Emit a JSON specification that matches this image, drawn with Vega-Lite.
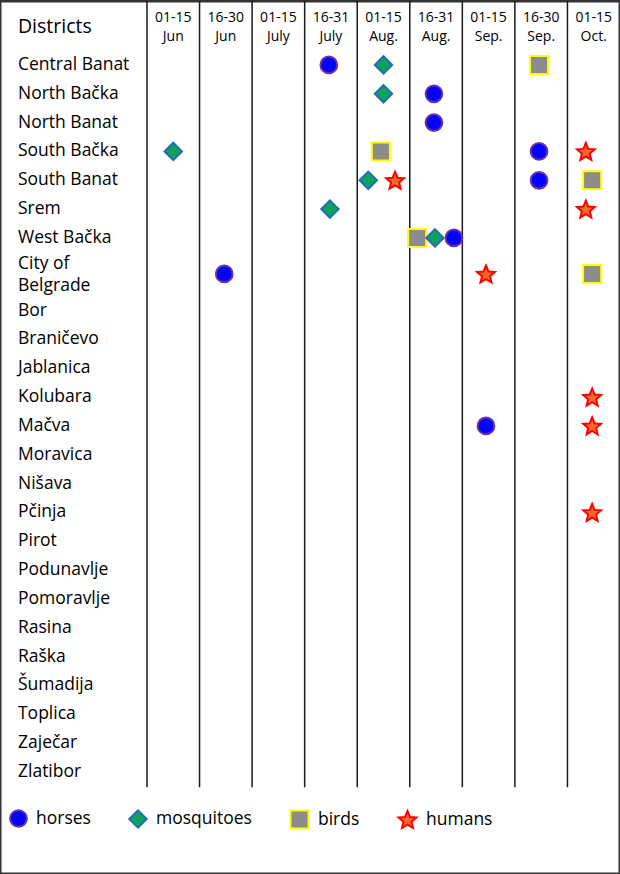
{
  "$schema": "https://vega.github.io/schema/vega-lite/v6.json",
  "autosize": {"type": "fit", "contains": "padding"},
  "width": 620,
  "height": 874,
  "padding": 0,
  "background": "white",
  "datasets": {
    "periods": [
      {"col": 0, "label": "01-15\nJun"},
      {"col": 1, "label": "16-30\nJun"},
      {"col": 2, "label": "01-15\nJuly"},
      {"col": 3, "label": "16-31\nJuly"},
      {"col": 4, "label": "01-15\nAug."},
      {"col": 5, "label": "16-31\nAug."},
      {"col": 6, "label": "01-15\nSep."},
      {"col": 7, "label": "16-30\nSep."},
      {"col": 8, "label": "01-15\nOct."}
    ],
    "districts": [
      {"district": "Central Banat", "row": 1},
      {"district": "North Bačka", "row": 2},
      {"district": "North Banat", "row": 3},
      {"district": "South Bačka", "row": 4},
      {"district": "South Banat", "row": 5},
      {"district": "Srem", "row": 6},
      {"district": "West Bačka", "row": 7},
      {"district": "City of\nBelgrade", "row": 8.25},
      {"district": "Bor", "row": 9.52},
      {"district": "Braničevo", "row": 10.52},
      {"district": "Jablanica", "row": 11.52},
      {"district": "Kolubara", "row": 12.52},
      {"district": "Mačva", "row": 13.52},
      {"district": "Moravica", "row": 14.52},
      {"district": "Nišava", "row": 15.52},
      {"district": "Pčinja", "row": 16.52},
      {"district": "Pirot", "row": 17.52},
      {"district": "Podunavlje", "row": 18.52},
      {"district": "Pomoravlje", "row": 19.52},
      {"district": "Rasina", "row": 20.52},
      {"district": "Raška", "row": 21.52},
      {"district": "Šumadija", "row": 22.52},
      {"district": "Toplica", "row": 23.52},
      {"district": "Zaječar", "row": 24.52},
      {"district": "Zlatibor", "row": 25.52}
    ],
    "detections": [
      {"district": "Central Banat", "col": 3, "type": "horses", "slot": -0.04},
      {"district": "Central Banat", "col": 4, "type": "mosquitoes", "slot": 0},
      {"district": "Central Banat", "col": 7, "type": "birds", "slot": -0.04},
      {"district": "North Bačka", "col": 4, "type": "mosquitoes", "slot": 0},
      {"district": "North Bačka", "col": 5, "type": "horses", "slot": -0.04},
      {"district": "North Banat", "col": 5, "type": "horses", "slot": -0.04},
      {"district": "South Bačka", "col": 0, "type": "mosquitoes", "slot": 0},
      {"district": "South Bačka", "col": 4, "type": "birds", "slot": -0.05},
      {"district": "South Bačka", "col": 7, "type": "horses", "slot": -0.04},
      {"district": "South Bačka", "col": 8, "type": "humans", "slot": -0.15},
      {"district": "South Banat", "col": 4, "type": "mosquitoes", "slot": -0.29},
      {"district": "South Banat", "col": 4, "type": "humans", "slot": 0.22},
      {"district": "South Banat", "col": 7, "type": "horses", "slot": -0.04},
      {"district": "South Banat", "col": 8, "type": "birds", "slot": -0.03},
      {"district": "Srem", "col": 3, "type": "mosquitoes", "slot": -0.02},
      {"district": "Srem", "col": 8, "type": "humans", "slot": -0.15},
      {"district": "West Bačka", "col": 5, "type": "birds", "slot": -0.36},
      {"district": "West Bačka", "col": 5, "type": "mosquitoes", "slot": -0.02},
      {"district": "West Bačka", "col": 5, "type": "horses", "slot": 0.34},
      {"district": "City of\nBelgrade", "col": 1, "type": "horses", "slot": -0.03},
      {"district": "City of\nBelgrade", "col": 6, "type": "humans", "slot": -0.05},
      {"district": "City of\nBelgrade", "col": 8, "type": "birds", "slot": -0.03},
      {"district": "Kolubara", "col": 8, "type": "humans", "slot": -0.03},
      {"district": "Mačva", "col": 6, "type": "horses", "slot": -0.05},
      {"district": "Mačva", "col": 8, "type": "humans", "slot": -0.03},
      {"district": "Pčinja", "col": 8, "type": "humans", "slot": -0.03}
    ]
  },
  "layer": [
    {
      "data": {"name": "periods"},
      "mark": {"type": "rule", "stroke": "#1a1a1a", "strokeWidth": 1.5},
      "encoding": {
        "x": {"field": "col", "type": "quantitative", "scale": {"domain": [-2.797, 9.0], "nice": false, "zero": false}, "axis": null},
        "y": {"datum": -1.217, "type": "quantitative", "scale": {"domain": [-1.217, 29.06], "nice": false, "zero": false, "reverse": true}, "axis": null},
        "y2": {"datum": 26.05}
      }
    },
    {
      "data": {"name": "periods"},
      "transform": [{"calculate": "datum.col + 0.5", "as": "center"}],
      "mark": {"type": "text", "fontSize": 14, "lineBreak": "\n", "lineHeight": 19, "align": "center", "baseline": "middle"},
      "encoding": {
        "x": {"field": "center", "type": "quantitative"},
        "y": {"datum": -0.63, "type": "quantitative"},
        "text": {"field": "label"}
      }
    },
    {
      "data": {"values": [{"label": "Districts"}]},
      "mark": {"type": "text", "fontSize": 19.5, "align": "left", "baseline": "middle"},
      "encoding": {
        "x": {"datum": -2.455, "type": "quantitative"},
        "y": {"datum": -0.33, "type": "quantitative"},
        "text": {"field": "label"}
      }
    },
    {
      "data": {"name": "districts"},
      "transform": [{"filter": "datum.row !== 8.25"}],
      "mark": {"type": "text", "fontSize": 17.5, "align": "left", "baseline": "middle"},
      "encoding": {
        "x": {"datum": -2.455, "type": "quantitative"},
        "y": {"field": "row", "type": "quantitative"},
        "text": {"field": "district"}
      }
    },
    {
      "data": {"name": "districts"},
      "transform": [{"filter": "datum.row === 8.25"}],
      "mark": {"type": "text", "fontSize": 17.5, "lineBreak": "\n", "lineHeight": 22, "align": "left", "baseline": "middle"},
      "encoding": {
        "x": {"datum": -2.455, "type": "quantitative"},
        "y": {"datum": 7.89, "type": "quantitative"},
        "text": {"field": "district"}
      }
    },
    {
      "data": {"name": "detections"},
      "transform": [
        {"lookup": "district", "from": {"data": {"name": "districts"}, "key": "district", "fields": ["row"]}},
        {"calculate": "datum.col + 0.5 + datum.slot", "as": "xpos"}
      ],
      "mark": {"type": "point", "filled": true, "opacity": 1, "strokeWidth": 2},
      "encoding": {
        "x": {"field": "xpos", "type": "quantitative"},
        "y": {"field": "row", "type": "quantitative"},
        "shape": {"field": "type", "type": "nominal", "scale": {"domain": ["horses", "mosquitoes", "birds", "humans"], "range": ["circle", "diamond", "square", "M0,-0.905L0.265,-0.269L0.951,-0.214L0.428,0.234L0.588,0.904L0,0.545L-0.588,0.904L-0.428,0.234L-0.951,-0.214L-0.265,-0.269Z"]}, "legend": {"title": null}},
        "size": {"field": "type", "type": "nominal", "scale": {"domain": ["horses", "mosquitoes", "birds", "humans"], "range": [280, 350, 240, 520]}, "legend": {"title": null}},
        "fill": {"field": "type", "type": "nominal", "scale": {"domain": ["horses", "mosquitoes", "birds", "humans"], "range": ["#0000ff", "#10a060", "#8c8c8c", "#f26a2a"]}, "legend": {"title": null}},
        "stroke": {"field": "type", "type": "nominal", "scale": {"domain": ["horses", "mosquitoes", "birds", "humans"], "range": ["#7030a0", "#1f6fb0", "#ffff00", "#ff0000"]}, "legend": {"title": null}}
      }
    }
  ],
  "config": {
    "view": {"stroke": "#333333", "strokeWidth": 3},
    "font": "Open Sans",
    "text": {"font": "Open Sans", "color": "black"},
    "legend": {
      "orient": "none",
      "legendX": 9,
      "legendY": 808,
      "direction": "horizontal",
      "padding": 0,
      "labelFont": "Open Sans",
      "labelFontSize": 17.5,
      "labelColor": "black",
      "labelOffset": 8,
      "columnPadding": 34,
      "symbolStrokeWidth": 2,
      "symbolOpacity": 1,
      "gridAlign": "none"
    }
  }
}
